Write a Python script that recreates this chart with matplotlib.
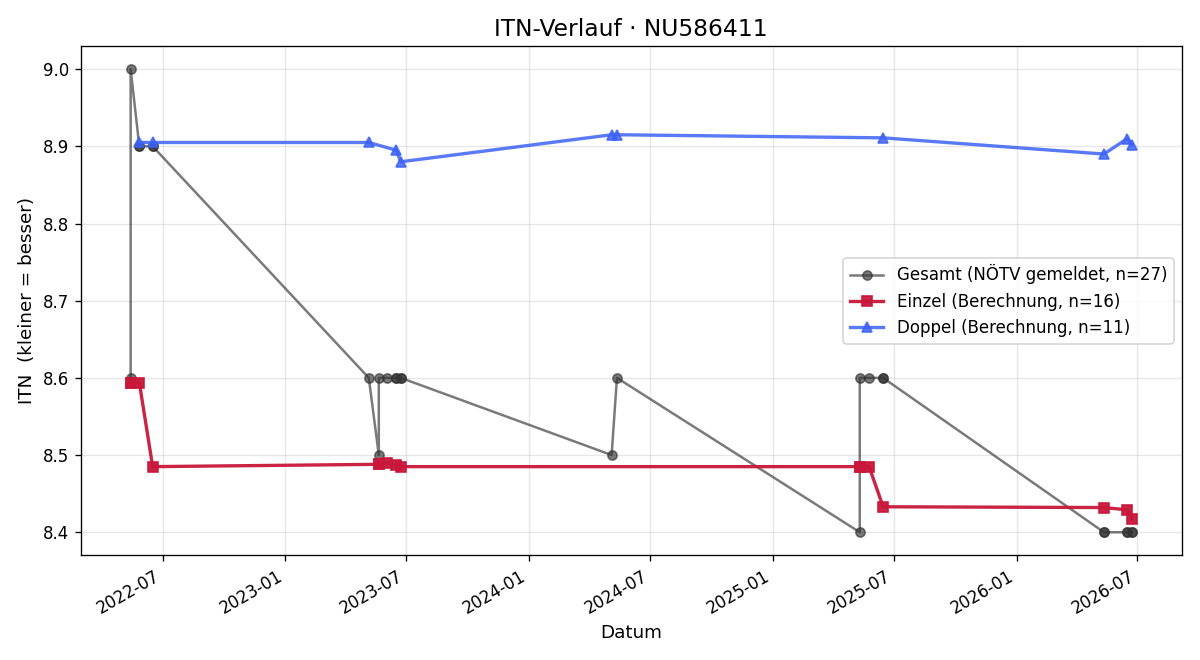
import matplotlib
matplotlib.use("Agg")
import matplotlib.pyplot as plt
import matplotlib.dates as mdates
import pandas as pd

# Gesamt (NÖTV gemeldet)
gesamt_dates = [
    "2022-05-14", "2022-05-14", "2022-05-27", "2022-05-27", "2022-06-16", "2022-06-16",
    "2023-05-06", "2023-05-21", "2023-05-21", "2023-06-03", "2023-06-16", "2023-06-16",
    "2023-06-23", "2023-06-23", "2024-05-04", "2024-05-12",
    "2025-05-11", "2025-05-11", "2025-05-25", "2025-06-15", "2025-06-15",
    "2026-05-12", "2026-05-12", "2026-06-16", "2026-06-16", "2026-06-23", "2026-06-23",
]
gesamt_itn = [
    8.6, 9.0, 8.9, 8.9, 8.9, 8.9,
    8.6, 8.5, 8.6, 8.6, 8.6, 8.6,
    8.6, 8.6, 8.5, 8.6,
    8.4, 8.6, 8.6, 8.6, 8.6,
    8.4, 8.4, 8.4, 8.4, 8.4, 8.4,
]

# Einzel (Berechnung)
einzel_dates = [
    "2022-05-14", "2022-05-14", "2022-05-27", "2022-06-16",
    "2023-05-21", "2023-05-21", "2023-06-03", "2023-06-16", "2023-06-23",
    "2025-05-11", "2025-05-11", "2025-05-25", "2025-06-15",
    "2026-05-12", "2026-06-16", "2026-06-23",
]
einzel_itn = [
    8.594, 8.594, 8.594, 8.485,
    8.488, 8.488, 8.490, 8.487, 8.485,
    8.485, 8.485, 8.485, 8.433,
    8.432, 8.429, 8.417,
]

# Doppel (Berechnung)
doppel_dates = [
    "2022-05-27", "2022-06-16", "2023-05-06", "2023-06-16", "2023-06-23",
    "2024-05-04", "2024-05-12", "2025-06-15",
    "2026-05-12", "2026-06-16", "2026-06-23",
]
doppel_itn = [
    8.905, 8.905, 8.905, 8.895, 8.880,
    8.915, 8.915, 8.911,
    8.890, 8.910, 8.902,
]

fig, ax = plt.subplots(figsize=(10, 5.5), dpi=120)

ax.plot(pd.to_datetime(gesamt_dates), gesamt_itn, marker="o", color="#333333",
        alpha=0.65, linewidth=1.5, markersize=5.5,
        label=f"Gesamt (NÖTV gemeldet, n={len(gesamt_itn)})")
ax.plot(pd.to_datetime(einzel_dates), einzel_itn, marker="s", color="#c8173a",
        alpha=0.95, linewidth=2, markersize=6.5,
        label=f"Einzel (Berechnung, n={len(einzel_itn)})")
ax.plot(pd.to_datetime(doppel_dates), doppel_itn, marker="^", color="#3d62f5",
        alpha=0.85, linewidth=2, markersize=6.5,
        label=f"Doppel (Berechnung, n={len(doppel_itn)})")

ax.xaxis.set_major_locator(mdates.MonthLocator(bymonth=[1, 7]))
ax.xaxis.set_major_formatter(mdates.DateFormatter("%Y-%m"))
fig.autofmt_xdate()

ax.set_title("ITN-Verlauf · NU586411", fontsize=14)
ax.set_xlabel("Datum", fontsize=11)
ax.set_ylabel("ITN  (kleiner = besser)", fontsize=11)
ax.grid(True, alpha=0.3)
ax.legend(loc="center right")

fig.tight_layout()
fig.savefig("out.png", dpi=120)
